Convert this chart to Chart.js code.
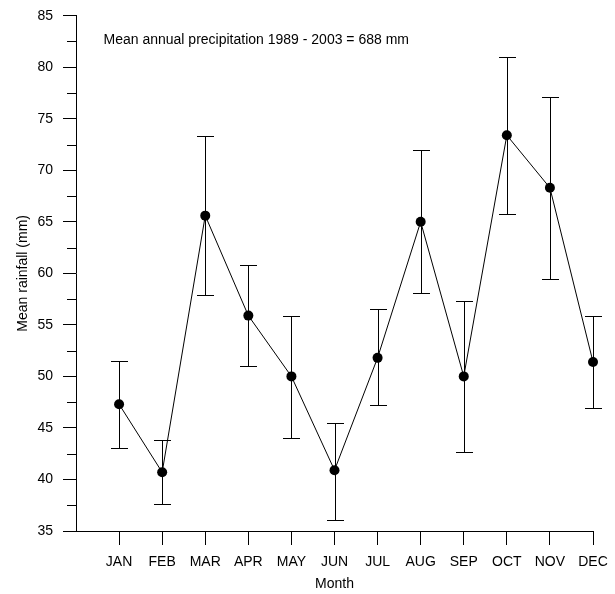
<!DOCTYPE html>
<html lang="en">
<head>
  <meta charset="UTF-8">
  <title>Mean monthly rainfall</title>
  <script src="https://cdn.jsdelivr.net/npm/chart.js"></script>
  <style>
    html, body {
      margin: 0;
      padding: 0;
      background: #fff;
    }
    #rainChart {
      display: block;
    }
  </style>
</head>
<body>
  <canvas id="rainChart" width="615" height="594"></canvas>

  <script>
    // monthly means and the ends of their error bars (mm)
    const months = ['JAN', 'FEB', 'MAR', 'APR', 'MAY', 'JUN', 'JUL', 'AUG', 'SEP', 'OCT', 'NOV', 'DEC'];
    const meanRain = [47.3, 40.7, 65.6, 55.9, 50.0, 40.9, 51.8, 65.0, 50.0, 73.4, 68.3, 51.4];
    const upperRain = [51.5, 43.8, 73.3, 60.8, 55.9, 45.5, 56.5, 72.0, 57.3, 81.0, 77.1, 55.9];
    const lowerRain = [43.1, 37.6, 57.9, 51.0, 44.0, 36.1, 47.2, 58.1, 42.7, 65.8, 59.5, 46.9];
    const yTicks = [35, 40, 45, 50, 55, 60, 65, 70, 75, 80, 85];
    const noteText = 'Mean annual precipitation 1989 - 2003 = 688 mm';

    Chart.defaults.font.family = '"Liberation Sans", Arial, sans-serif';
    Chart.defaults.font.size = 14;
    Chart.defaults.color = '#000';

    const crisp = v => Math.round(v) + 0.5;

    // vertical bars with caps, drawn under the points
    const errorBars = {
      id: 'errorBars',
      beforeDatasetsDraw(chart) {
        const { ctx, scales: { x, y } } = chart;
        const cap = 8.5;
        ctx.save();
        ctx.strokeStyle = '#000';
        ctx.lineWidth = 1;
        months.forEach((m, i) => {
          const px = crisp(x.getPixelForValue(i + 1));
          const top = crisp(y.getPixelForValue(upperRain[i]));
          const bot = crisp(y.getPixelForValue(lowerRain[i]));
          ctx.beginPath();
          ctx.moveTo(px, top);
          ctx.lineTo(px, bot);
          ctx.moveTo(px - cap, top);
          ctx.lineTo(px + cap, top);
          ctx.moveTo(px - cap, bot);
          ctx.lineTo(px + cap, bot);
          ctx.stroke();
        });
        ctx.restore();
      }
    };

    // short ticks halfway between the labelled ones, plus the note inside the plot
    const extras = {
      id: 'extras',
      afterDraw(chart) {
        const { ctx, chartArea, scales: { y } } = chart;
        ctx.save();
        ctx.strokeStyle = '#000';
        ctx.lineWidth = 1;
        ctx.beginPath();
        for (let i = 0; i < yTicks.length - 1; i++) {
          const py = crisp(y.getPixelForValue((yTicks[i] + yTicks[i + 1]) / 2));
          ctx.moveTo(chartArea.left - 9, py);
          ctx.lineTo(chartArea.left, py);
        }
        ctx.stroke();

        ctx.fillStyle = '#000';
        ctx.font = '14px "Liberation Sans", Arial, sans-serif';
        ctx.textAlign = 'left';
        ctx.textBaseline = 'alphabetic';
        ctx.fillText(noteText, chartArea.left + 27.5, chartArea.top + 28.5);
        ctx.restore();
      }
    };

    new Chart(document.getElementById('rainChart').getContext('2d'), {
      type: 'line',
      data: {
        datasets: [{
          data: meanRain.map((v, i) => ({ x: i + 1, y: v })),
          borderColor: '#000',
          borderWidth: 1,
          backgroundColor: '#000',
          pointRadius: 5,
          pointBorderWidth: 0,
          pointBackgroundColor: '#000',
          fill: false,
          clip: false,
          tension: 0
        }]
      },
      options: {
        responsive: false,
        animation: false,
        layout: { padding: { top: 15.7, right: 22, left: 0, bottom: 0 } },
        plugins: {
          legend: { display: false },
          tooltip: { enabled: false }
        },
        scales: {
          x: {
            type: 'linear',
            min: 0,
            max: 12,
            afterBuildTicks: scale => {
              scale.ticks = months.map((m, i) => ({ value: i + 1 }));
            },
            afterFit: scale => {
              scale.height = 63;
              scale.paddingLeft = 0;
              scale.paddingRight = 0;
            },
            ticks: {
              padding: 9,
              callback: v => months[v - 1] || ''
            },
            grid: {
              drawOnChartArea: false,
              drawTicks: true,
              tickLength: 14,
              tickColor: '#000'
            },
            border: { color: '#000', width: 1 },
            title: {
              display: true,
              text: 'Month',
              padding: { top: 0, bottom: 1 }
            }
          },
          y: {
            min: 35,
            max: 85,
            afterBuildTicks: scale => {
              scale.ticks = yTicks.map(v => ({ value: v }));
            },
            afterFit: scale => {
              scale.width = 76;
              scale.paddingTop = 0;
              scale.paddingBottom = 0;
            },
            ticks: { padding: 10 },
            grid: {
              drawOnChartArea: false,
              drawTicks: true,
              tickLength: 13,
              tickColor: '#000'
            },
            border: { color: '#000', width: 1 },
            title: {
              display: true,
              text: 'Mean rainfall (mm)',
              padding: { top: 15, bottom: 0 }
            }
          }
        }
      },
      plugins: [errorBars, extras]
    });
  </script>
</body>
</html>
